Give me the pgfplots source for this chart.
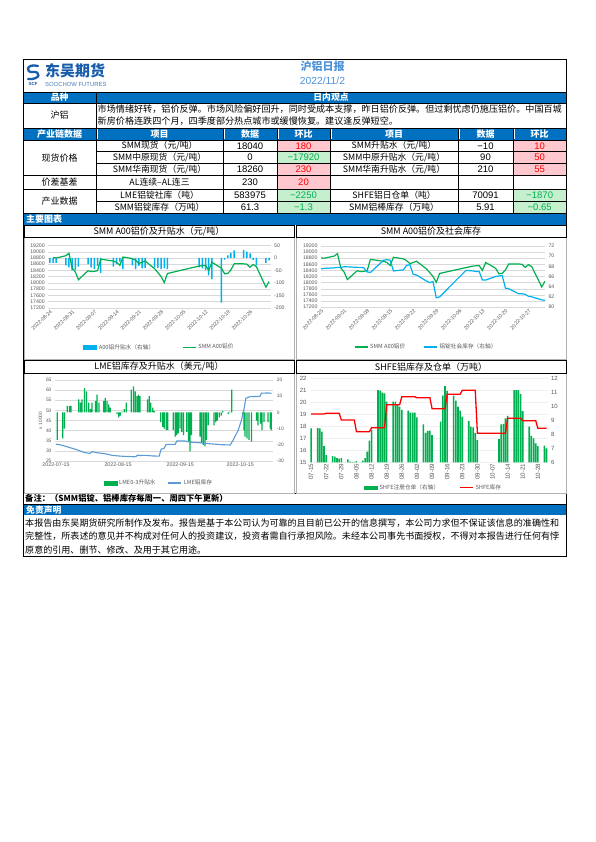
\documentclass[border=0pt]{standalone}
\usepackage{fontspec}
\setmainfont{Noto Sans CJK SC}
\newfontfamily\arial{Liberation Sans}
\usepackage{pgfplots}
\pgfplotsset{compat=1.18}

\definecolor{band}{RGB}{0,112,192}
\definecolor{redfill}{RGB}{255,199,206}
\definecolor{greenfill}{RGB}{198,239,206}
\definecolor{redtxt}{RGB}{255,0,0}
\definecolor{greentxt}{RGB}{0,176,80}
\definecolor{titleblue}{RGB}{79,147,214}
\definecolor{logoblue}{RGB}{24,92,170}
\definecolor{cyanbar}{RGB}{0,176,240}
\definecolor{xlgreen}{RGB}{0,176,80}
\definecolor{lmeblue}{RGB}{91,155,213}
\definecolor{gridgray}{RGB}{217,217,217}
\definecolor{ticktxt}{RGB}{89,89,89}

\newcommand\fs[1]{\fontsize{#1}{#1}\selectfont}

\pgfplotsset{
  base/.style={scale only axis, clip=true, axis line style={draw=none},
    major tick length=0pt, tick style={draw=none},
    scaled ticks=false,
    ticklabel style={font=\arial\fs{5.2}, text=ticktxt},
    /pgf/number format/1000 sep={},
    /pgf/number format/assume math mode=true,
    grid style={gridgray, line width=0.4pt}},
  lg/.style={legend style={draw=none, fill=none, font=\fs{5.7}, text=ticktxt,
    /tikz/every even column/.append style={column sep=#1}}, legend columns=2},
  linekey/.style={legend image code/.code={\draw[#1] (0pt,0pt) -- (13pt,0pt);}},
  barkey/.style={legend image code/.code={\fill[#1] (0pt,-1.7pt) rectangle (13pt,1.7pt);}},
}

\begin{document}
\begin{tikzpicture}
\fill[white] (0,0) rectangle (595pt,-842pt);
\begin{scope}[x=1pt,y=-1pt]
% ---------- bands ----------
\fill[band] (23.3,92) rectangle (566.5,103);
\fill[band] (23.3,128) rectangle (566.5,140);
\fill[band] (23.3,213.3) rectangle (566.5,225);
\fill[band] (23.3,505) rectangle (566.5,515);
% change cells
\fill[redfill] (277,140) rectangle (330,151.8);
\fill[greenfill] (277,151.8) rectangle (330,163.5);
\fill[redfill] (277,163.5) rectangle (330,175.2);
\fill[redfill] (277,175.2) rectangle (330,189.3);
\fill[greenfill] (277,189.3) rectangle (330,201.5);
\fill[greenfill] (277,201.5) rectangle (330,213.3);
\fill[redfill] (513,140) rectangle (566.5,151.8);
\fill[redfill] (513,151.8) rectangle (566.5,163.5);
\fill[redfill] (513,163.5) rectangle (566.5,175.2);
\fill[greenfill] (513,189.3) rectangle (566.5,201.5);
\fill[greenfill] (513,201.5) rectangle (566.5,213.3);
% ---------- lines ----------
\begin{scope}[line width=0.6pt]
\draw (23.3,59) rectangle (566.5,556);
\draw (23.3,92) -- (566.5,92);
\draw (23.3,103) -- (566.5,103);
\draw (23.3,128) -- (566.5,128);
\draw (23.3,140) -- (566.5,140);
\draw (96,151.8) -- (566.5,151.8);
\draw (96,163.5) -- (566.5,163.5);
\draw (23.3,175.2) -- (566.5,175.2);
\draw (23.3,189.3) -- (566.5,189.3);
\draw (96,201.5) -- (566.5,201.5);
\draw (23.3,213.3) -- (566.5,213.3);
\draw (96,92) -- (96,213.3);
\foreach \c in {223,277,330,458,513} {\draw (\c,128) -- (\c,213.3);}
\draw (23.3,504) -- (566.5,504);
\draw (23.3,493) -- (566.5,493);
\end{scope}
\foreach \c in {96,223,277,330,458,513} {\draw[white, line width=0.8pt] (\c+1,128.6) -- (\c+1,139.4);}
% chart boxes
\draw[gray!60, line width=0.4pt] (24,237.5) rectangle (294,359);
\draw[gray!60, line width=0.4pt] (296.5,237.5) rectangle (566,359);
\draw[gray!60, line width=0.4pt] (24,373) rectangle (294,493);
\draw[gray!60, line width=0.4pt] (296.5,373) rectangle (566,493);
\draw[line width=0.9pt] (24,225.6) rectangle (294,237.5);
\draw[line width=0.9pt] (296.5,225.6) rectangle (566,237.5);
\draw[line width=0.9pt] (24,360.3) rectangle (294,373);
\draw[line width=0.9pt] (296.5,360.3) rectangle (566,373);
% ---------- header ----------
\draw[logoblue, line width=2.3pt, line cap=round] (38,66) .. controls (26,63) and (25,73) .. (33,72) .. controls (41,71) and (41,80) .. (28,79);
\node[inner sep=0] at (33,84) {\arial\bfseries\fs{4.5}\color{logoblue}SCF};
\node[inner sep=0, anchor=west] at (45,71) {\bfseries\fs{15}\color{logoblue}东吴期货};
\node[inner sep=0, anchor=west] at (45,84.5) {\arial\fs{5.9}\color{logoblue!80}SOOCHOW FUTURES};
\node[inner sep=0] at (322.5,66.5) {\bfseries\fs{11}\color{titleblue}沪铝日报};
\node[inner sep=0] at (322.5,80.5) {\arial\fs{10.3}\color{titleblue}2022/11/2};
% ---------- table text ----------
\node[inner sep=0] at (59.6,97.5) {\bfseries\fs{8.8}\color{white}品种};
\node[inner sep=0] at (331,97.5) {\bfseries\fs{8.8}\color{white}日内观点};
\node[inner sep=0] at (59.6,115.5) {\fs{9}沪铝};
\node[inner sep=0, anchor=west] at (97.5,109.6) {\fs{9.1}市场情绪好转，铝价反弹。市场风险偏好回升，同时受成本支撑，昨日铝价反弹。但过剩忧虑仍施压铝价。中国百城};
\node[inner sep=0, anchor=west] at (97.5,121.6) {\fs{9.1}新房价格连跌四个月，四季度部分热点城市或缓慢恢复。建议逢反弹短空。};
\node[inner sep=0] at (59.6,134) {\bfseries\fs{9}\color{white}产业链数据};
\foreach \x/\t in {159.5/项目,250/数据,303.5/环比,394/项目,485.5/数据,539.7/环比} {\node[inner sep=0] at (\x,134) {\bfseries\fs{9}\color{white}\t};}
\node[inner sep=0] at (59.6,157.6) {\fs{9}现货价格};
\node[inner sep=0] at (59.6,182.2) {\fs{9}价差基差};
\node[inner sep=0] at (59.6,201.4) {\fs{9}产业数据};
% left table
\node[inner sep=0] at (159.5,145.9) {\fs{8.8}SMM现货（元/吨）};
\node[inner sep=0] at (159.5,157.6) {\fs{8.8}SMM中原现货（元/吨）};
\node[inner sep=0] at (159.5,169.3) {\fs{8.8}SMM华南现货（元/吨）};
\node[inner sep=0] at (159.5,182.2) {\fs{8.8}AL连续–AL连三};
\node[inner sep=0] at (159.5,195.4) {\fs{8.8}LME铝锭社库（吨）};
\node[inner sep=0] at (159.5,207.4) {\fs{8.8}SMM铝锭库存（万吨）};
\node[inner sep=0] at (250,145.9) {\arial\fs{9.5}18040};
\node[inner sep=0] at (250,157.6) {\arial\fs{9.5}0};
\node[inner sep=0] at (250,169.3) {\arial\fs{9.5}18260};
\node[inner sep=0] at (250,182.2) {\arial\fs{9.5}230};
\node[inner sep=0] at (250,195.4) {\arial\fs{9.5}583975};
\node[inner sep=0] at (250,207.4) {\arial\fs{9.5}61.3};
\node[inner sep=0] at (303.5,145.9) {\arial\fs{9.5}\color{redtxt}180};
\node[inner sep=0] at (303.5,157.6) {\arial\fs{9.5}\color{greentxt}−17920};
\node[inner sep=0] at (303.5,169.3) {\arial\fs{9.5}\color{redtxt}230};
\node[inner sep=0] at (303.5,182.2) {\arial\fs{9.5}\color{redtxt}20};
\node[inner sep=0] at (303.5,195.4) {\arial\fs{9.5}\color{greentxt}−2250};
\node[inner sep=0] at (303.5,207.4) {\arial\fs{9.5}\color{greentxt}−1.3};
% right table
\node[inner sep=0] at (394,145.9) {\fs{8.8}SMM升贴水（元/吨）};
\node[inner sep=0] at (394,157.6) {\fs{8.8}SMM中原升贴水（元/吨）};
\node[inner sep=0] at (394,169.3) {\fs{8.8}SMM华南升贴水（元/吨）};
\node[inner sep=0] at (394,195.4) {\fs{8.8}SHFE铝日仓单（吨）};
\node[inner sep=0] at (394,207.4) {\fs{8.8}SMM铝棒库存（万吨）};
\node[inner sep=0] at (485.5,145.9) {\arial\fs{9.5}−10};
\node[inner sep=0] at (485.5,157.6) {\arial\fs{9.5}90};
\node[inner sep=0] at (485.5,169.3) {\arial\fs{9.5}210};
\node[inner sep=0] at (485.5,195.4) {\arial\fs{9.5}70091};
\node[inner sep=0] at (485.5,207.4) {\arial\fs{9.5}5.91};
\node[inner sep=0] at (539.7,145.9) {\arial\fs{9.5}\color{redtxt}10};
\node[inner sep=0] at (539.7,157.6) {\arial\fs{9.5}\color{redtxt}50};
\node[inner sep=0] at (539.7,169.3) {\arial\fs{9.5}\color{redtxt}55};
\node[inner sep=0] at (539.7,195.4) {\arial\fs{9.5}\color{greentxt}−1870};
\node[inner sep=0] at (539.7,207.4) {\arial\fs{9.5}\color{greentxt}−0.65};
% section titles
\node[inner sep=0, anchor=west] at (26,219.2) {\bfseries\fs{9}\color{white}主要图表};
\node[inner sep=0] at (159,231.5) {\fs{9}SMM A00铝价及升贴水（元/吨）};
\node[inner sep=0] at (431,231.5) {\fs{9}SMM A00铝价及社会库存};
\node[inner sep=0] at (159,366.7) {\fs{9}LME铝库存及升贴水（美元/吨）};
\node[inner sep=0] at (431,366.7) {\fs{9}SHFE铝库存及仓单（万吨）};
% footer
\node[inner sep=0, anchor=west] at (25,498.6) {\bfseries\fs{8.3}备注：（SMM铝锭、铝棒库存每周一、周四下午更新）};
\node[inner sep=0, anchor=west] at (26,510) {\bfseries\fs{8.8}\color{white}免责声明};
\node[inner sep=0, anchor=west] at (25,522.8) {\fs{9.05}本报告由东吴期货研究所制作及发布。报告是基于本公司认为可靠的且目前已公开的信息撰写，本公司力求但不保证该信息的准确性和};
\node[inner sep=0, anchor=west] at (25,536.4) {\fs{9.05}完整性，所表述的意见并不构成对任何人的投资建议，投资者需自行承担风险。未经本公司事先书面授权，不得对本报告进行任何有悖};
\node[inner sep=0, anchor=west] at (25,550) {\fs{9.05}原意的引用、删节、修改、及用于其它用途。};
\end{scope}

% ================= Chart 1 =================
\begin{axis}[base, at={(48.3pt,-307.7pt)}, anchor=south west, width=222.4pt, height=62.2pt,
  xmin=-0.5, xmax=69.5, ymin=17200, ymax=19200, ytick={17200,17400,...,19200}, ymajorgrids,
  xtick={0,7,...,63},
  xticklabels={2022-08-24,2022-08-31,2022-09-07,2022-09-14,2022-09-21,2022-09-28,2022-10-05,2022-10-12,2022-10-19,2022-10-26},
  xticklabel style={rotate=45, anchor=north east, inner sep=1pt}]
\end{axis}
\begin{axis}[base, at={(48.3pt,-307.7pt)}, anchor=south west, width=222.4pt, height=62.2pt,
  xmin=-0.5, xmax=69.5, ymin=-200, ymax=50, ytick={-200,-150,...,50},
  axis y line*=right, axis x line=none]
\addplot[ybar, bar width=1.5pt, fill=cyanbar, draw=none] coordinates {
(0,-20)(1,-20)(2,-20)(5,-30)(6,-38)(7,-50)(8,-48)(9,-35)(12,-25)(13,-38)(14,-45)(15,-32)(16,-60)
(20,-35)(21,-25)(22,-15)(23,-45)(26,-30)(27,-45)(28,-32)(29,-42)(30,-40)(33,-38)(34,-40)(35,-45)
(36,-42)(37,-45)(47,-38)(48,-42)(49,-48)(50,-70)(51,-85)(54,-180)(55,-7)(56,10)(57,20)(58,30)
(61,32)(62,25)(63,18)(64,-8)(65,-30)(68,-20)(69,-10)};
\end{axis}
\begin{axis}[base, lg=26pt, hide axis, at={(48.3pt,-307.7pt)}, anchor=south west, width=222.4pt, height=62.2pt,
  xmin=-0.5, xmax=69.5, ymin=17200, ymax=19200,
  legend style={at={(0.5,-0.637)}, anchor=center}]
\addlegendimage{barkey=cyanbar}
\addlegendentry{A00铝升贴水（右轴）}
\addplot[xlgreen, line width=1.2pt, linekey={xlgreen, line width=1.2pt}] coordinates {
(1,18810)(2,18800)(5,18870)(6,18950)(7,18480)(8,18350)(9,18100)(12,18390)(13,18360)(14,18370)
(15,18390)(16,18760)(20,18700)(21,18660)(22,18560)(23,18830)(26,18780)(27,18720)(28,18620)
(29,18660)(30,18700)(33,18450)(34,18330)(35,18200)(36,18010)(37,18300)(47,18540)(48,18550)
(49,18560)(50,18400)(51,18660)(54,18470)(55,18290)(56,18300)(57,18420)(58,18610)(61,18610)
(62,18600)(63,18500)(64,18590)(65,18520)(68,17860)(69,18040)};
\addlegendentry{SMM A00铝价}
\end{axis}

% ================= Chart 2 =================
\begin{axis}[base, at={(321pt,-307pt)}, anchor=south west, width=224pt, height=61pt,
  xmin=1, xmax=69, ymin=17200, ymax=19200, ytick={17200,17400,...,19200}, ymajorgrids,
  xtick={1,8,...,64},
  xticklabels={2022-08-25,2022-09-01,2022-09-08,2022-09-15,2022-09-22,2022-09-29,2022-10-06,2022-10-13,2022-10-20,2022-10-27},
  xticklabel style={rotate=45, anchor=north east, inner sep=1pt}]
\addplot[xlgreen, line width=1.2pt] coordinates {
(1,18810)(2,18800)(5,18870)(6,18950)(7,18480)(8,18350)(9,18100)(12,18390)(13,18360)(14,18370)
(15,18390)(16,18760)(20,18700)(21,18660)(22,18560)(23,18830)(26,18780)(27,18720)(28,18620)
(29,18660)(30,18700)(33,18450)(34,18330)(35,18200)(36,18010)(37,18300)(47,18540)(48,18550)
(49,18560)(50,18400)(51,18660)(54,18470)(55,18290)(56,18300)(57,18420)(58,18610)(61,18610)
(62,18600)(63,18500)(64,18590)(65,18520)(68,17860)(69,18040)};
\end{axis}
\begin{axis}[base, lg=16pt, at={(321pt,-307pt)}, anchor=south west, width=224pt, height=61pt,
  xmin=1, xmax=69, ymin=60, ymax=72, ytick={60,62,...,72},
  axis y line*=right, axis x line=none,
  legend style={at={(0.47,-0.656)}, anchor=center}]
\addlegendimage{linekey={xlgreen, line width=1.2pt}}
\addlegendentry{SMM A00铝价}
\addplot[cyanbar, line width=1.2pt, linekey={cyanbar, line width=1.2pt}] coordinates {
(1,67.5)(2,67.6)(5,67.7)(6,67.8)(7,67.8)(8,67.9)(9,67.9)(12,67.8)(13,67.8)(14,67.7)(15,66.9)
(16,66.8)(20,69.2)(21,69.3)(22,69.2)(23,67.1)(26,67.3)(27,68.2)(28,68.3)(29,66.4)(30,66.3)
(33,65.1)(34,64.8)(35,65.0)(36,61.8)(37,62.0)(45,67.2)(47,67.1)(48,67.0)(49,67.0)(50,65.3)
(51,65.3)(54,66.0)(55,66.1)(56,66.2)(57,63.7)(58,63.6)(61,62.6)(62,62.6)(63,62.5)(64,62.1)
(65,62.0)(68,61.4)(69,61.3)};
\addlegendentry{铝锭社会库存（右轴）}
\end{axis}

% ================= Chart 3 =================
\begin{axis}[base, at={(55pt,-461pt)}, anchor=south west, width=218.3pt, height=81pt,
  xmin=-0.5, xmax=108.5, ymin=25, ymax=65, ytick={25,30,...,65}, ymajorgrids,
  xtick={0,31,62,92}, xticklabels={2022-07-15,2022-08-15,2022-09-15,2022-10-15},
  xticklabel style={inner sep=1.5pt, font=\arial\fs{5.3}},
  yticklabel style={font=\arial\fs{4.9}},
  ylabel={x 10000}, ylabel style={font=\arial\fs{4.8}, text=ticktxt, yshift=-3pt}]
\end{axis}
\begin{axis}[base, at={(55pt,-461pt)}, anchor=south west, width=218.3pt, height=81pt,
  xmin=-0.5, xmax=108.5, ymin=-30, ymax=20, ytick={-30,-20,...,20},
  yticklabel style={font=\arial\fs{4.9}},
  axis y line*=right, axis x line=none]
\addplot[ybar, bar width=1.25pt, fill=xlgreen, draw=none] coordinates {
(0.6,-17)(3.4,-16)(4.2,-10)(5.6,4)(6.7,4)(7.5,4)(11.4,8)(12.2,6)(13,8)(14.2,15)(15.2,13)(16.3,6)
(17.2,2)(18,6)(19.7,7)(20.5,11)(21.5,6)(23.8,7)(24.6,9)(25.5,7)(26.3,5)(27.1,3)(30.4,-1)(31.3,-3)
(32.1,-2)(32.9,0.5)(34.1,2)(35.1,6)(37.6,14)(38.7,16)(39.6,13)(40.4,10)(41.2,11)(42,10)(45.7,8)
(46.5,10)(47.3,6)(48.3,3)(49,1)(52.3,-6)(53.3,-9)(54.1,-10)(55,-11)(55.8,-11)(58.6,-11)(59.5,-15)
(60.3,-14)(61.1,-13)(61.9,-10)(62.8,-12)(63.6,-14)(65.3,-12)(66.1,-18)(66.9,-24)(67.7,-14)
(71.9,-15)(72.7,-19)(73.5,-20)(74.4,-21)(75.2,-17)(76,-8)(78.9,-8)(79.7,-6)(80.5,-5)(81.5,-3)
(82.5,-2)(83.2,1)(86,-1)(86.8,0.5)(87.8,14)(93.1,-1)(93.9,-11)(94.4,-15)(95.4,-16)(96.4,-17)
(97.6,-18)(100.1,-5)(100.9,-8)(102.1,-7)(102.9,-11)(103.9,-6)(105.9,-6)(107,-10)(107.5,-11)};
\end{axis}
\begin{axis}[base, lg=10pt, hide axis, at={(55pt,-461pt)}, anchor=south west, width=218.3pt, height=81pt,
  xmin=-0.5, xmax=108.5, ymin=25, ymax=65,
  legend style={at={(0.476,-0.272)}, anchor=center}]
\addlegendimage{barkey=xlgreen}
\addlegendentry{LME0-3升贴水}
\addplot[lmeblue, line width=1.1pt, linekey={lmeblue, line width=1.2pt}] coordinates {
(0,33.3)(2,33.0)(4,32.5)(6,31.9)(8,31.3)(10,30.7)(12,30.0)(14,29.2)(16,28.9)(17,28.8)(18,29.6)
(19,29.4)(21,29.0)(23,28.8)(25,28.5)(28,27.8)(31,27.5)(34,27.3)(37,27.2)(39,27.1)(40,27.2)
(40.6,27.9)(42,27.7)(44,27.8)(46,27.7)(48,27.5)(51.5,27.4)(52.5,30.8)(54,31.3)(55,33.2)(59.5,33.2)
(60.3,34.9)(64.4,34.9)(67,34.3)(72,34.0)(77,33.5)(82,33.1)(87,32.9)(88.5,35.4)(91,40.3)(92.6,45.2)
(93.8,50.2)(94.8,56.0)(96.8,56.8)(101.8,56.9)(102.6,58.5)(105.9,58.6)(107.6,58.4)};
\addlegendentry{LME铝库存}
\end{axis}

% ================= Chart 4 =================
\begin{axis}[base, at={(310pt,-462.3pt)}, anchor=south west, width=237.6pt, height=84pt,
  xmin=-0.5, xmax=109.5, ymin=15, ymax=22, ytick={15,16,...,22}, ymajorgrids,
  grid style={gray!12, line width=0.3pt},
  yticklabel style={font=\arial\fs{6}},
  xtick={0,7,...,105},
  xticklabels={07-15,07-22,07-29,08-05,08-12,08-19,08-26,09-02,09-09,09-16,09-23,09-30,10-07,10-14,10-21,10-28},
  xticklabel style={rotate=90, anchor=east, inner sep=1.5pt, font=\arial\fs{6.2}}]
\end{axis}
\begin{axis}[base, at={(310pt,-462.3pt)}, anchor=south west, width=237.6pt, height=84pt,
  xmin=-0.5, xmax=109.5, ymin=6, ymax=12, ytick={6,7,...,12},
  yticklabel style={font=\arial\fs{6}},
  axis y line*=right, axis x line=none]
\addplot[ybar, bar width=1.6pt, fill=xlgreen, draw=none] coordinates {
(0,8.43)(3,8.45)(4,8.43)(5,8.2)(6,7.16)(7,6.52)(10,6.45)(11,6.4)(12,6.29)(13,6.27)(14,6.29)
(17,6.21)(18,6.05)(19,6.02)(20,6.02)(21,6.09)(24,6.12)(25,6.29)(26,6.76)(27,7.54)(28,8.31)
(31,11.16)(32,11.12)(33,10.97)(34,10.93)(35,10.33)(38,10.33)(39,10.33)(40,10.16)(41,9.97)(42,9.74)
(45,9.69)(46,9.55)(47,9.55)(48,9.55)(49,9.21)(52,8.71)(53,8.11)(54,8.24)(55,8.26)(56,7.95)
(60,8.9)(61,10.76)(62,11.45)(63,11.1)(66,10.76)(67,10.4)(68,9.98)(69,9.7)(70,9.26)(73,8.95)
(74,8.54)(75,8.5)(76,8.11)(77,7.59)(87,7.66)(88,8.71)(89,8.75)(90,9.14)(91,9.31)(94,11.16)
(95,11.16)(96,11.16)(97,10.88)(98,9.66)(101,8.54)(102,7.88)(103,7.71)(104,7.36)(105,7.16)
(108,7.2)(109,7.0)};
\end{axis}
\begin{axis}[base, lg=18pt, hide axis, at={(310pt,-462.3pt)}, anchor=south west, width=237.6pt, height=84pt,
  xmin=-0.5, xmax=109.5, ymin=15, ymax=22,
  legend style={at={(0.52,-0.3)}, anchor=center}]
\addlegendimage{barkey=xlgreen}
\addlegendentry{SHFE注册仓单（右轴）}
\addplot[red, line width=1.3pt, linekey={red, line width=1.3pt}] coordinates {
(0,19.03)(6,19.03)(7,19.08)(13,19.08)(14,18.53)(20,18.53)(21,17.55)(27,17.55)(28,17.88)(34,17.88)
(35,19.8)(41,19.8)(42,20.47)(48,20.47)(49,20.38)(55,20.38)(56,19.47)(62,19.47)(63,20.67)(69,20.67)
(70,21.0)(76,21.0)(77,17.42)(90,17.42)(91,18.67)(97,18.67)(98,18.47)(104,18.47)(105,17.83)(109,17.83)};
\addlegendentry{SHFE库存}
\end{axis}
\end{tikzpicture}
\end{document}
